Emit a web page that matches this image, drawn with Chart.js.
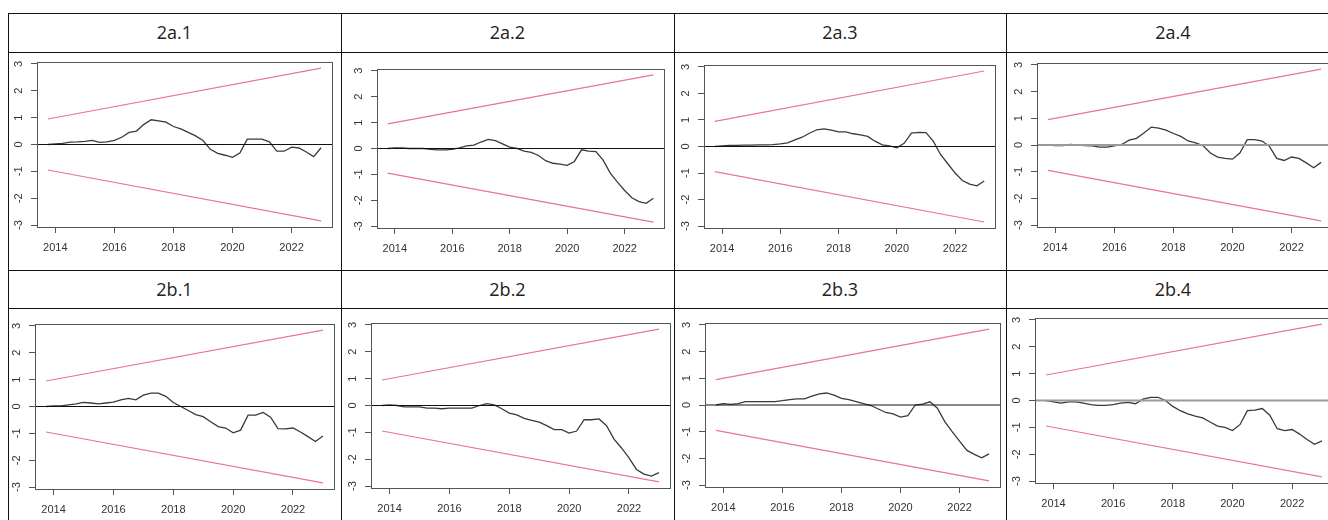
<!DOCTYPE html>
<html>
<head>
<meta charset="utf-8">
<title>CUSUM 2a / 2b</title>
<script src="https://cdn.jsdelivr.net/npm/chart.js@4.4.1/dist/chart.umd.min.js"></script>
<style>
html, body { margin: 0; padding: 0; width: 1328px; height: 520px; overflow: hidden; background: #fff; }
#sheet { position: relative; width: 1328px; height: 520px; }
.cv { position: absolute; }
.ln { position: absolute; background: #111; z-index: 2; }
.ttl { position: absolute; text-align: center; font-family: 'Open Sans', sans-serif; font-size: 18px; color: #222; }
</style>
</head>
<body>
<div id="sheet"></div>
<script>
// quarterly time axis
var quarters = [2013.75,
    2014, 2014.25, 2014.5, 2014.75, 2015, 2015.25, 2015.5, 2015.75,
    2016, 2016.25, 2016.5, 2016.75, 2017, 2017.25, 2017.5, 2017.75,
    2018, 2018.25, 2018.5, 2018.75, 2019, 2019.25, 2019.5, 2019.75,
    2020, 2020.25, 2020.5, 2020.75, 2021, 2021.25, 2021.5, 2021.75,
    2022, 2022.25, 2022.5, 2022.75, 2023];

// empirical fluctuation process, one per panel
var s2a1 = [0, 0.02, 0.04, 0.09, 0.10, 0.12, 0.15, 0.08, 0.10, 0.15, 0.27, 0.45, 0.50, 0.75, 0.92, 0.88, 0.83, 0.67, 0.58, 0.45, 0.32, 0.15, -0.18, -0.33, -0.40, -0.48, -0.32, 0.20, 0.20, 0.20, 0.10, -0.25, -0.25, -0.10, -0.13, -0.28, -0.45, -0.12];
var s2a2 = [0, 0.02, 0.02, 0, 0, 0, -0.03, -0.05, -0.05, -0.03, 0.02, 0.10, 0.13, 0.25, 0.35, 0.30, 0.18, 0.05, 0, -0.10, -0.15, -0.27, -0.47, -0.57, -0.60, -0.65, -0.50, -0.05, -0.10, -0.12, -0.45, -0.95, -1.30, -1.62, -1.90, -2.05, -2.12, -1.92];
var s2a3 = [0, 0.02, 0.04, 0.04, 0.05, 0.05, 0.06, 0.06, 0.07, 0.10, 0.14, 0.25, 0.35, 0.50, 0.63, 0.66, 0.62, 0.55, 0.55, 0.48, 0.44, 0.38, 0.20, 0.06, 0.02, -0.05, 0.12, 0.50, 0.53, 0.52, 0.20, -0.30, -0.65, -1.00, -1.28, -1.42, -1.48, -1.30];
var s2a4 = [0, -0.02, -0.02, 0.02, 0, -0.02, -0.03, -0.08, -0.08, -0.03, 0.02, 0.18, 0.25, 0.45, 0.67, 0.63, 0.56, 0.43, 0.32, 0.15, 0.08, -0.02, -0.30, -0.45, -0.50, -0.53, -0.30, 0.20, 0.20, 0.15, -0.05, -0.50, -0.58, -0.45, -0.50, -0.67, -0.85, -0.65];
var s2b1 = [0, 0.02, 0.02, 0.06, 0.10, 0.15, 0.13, 0.10, 0.13, 0.16, 0.25, 0.30, 0.25, 0.42, 0.50, 0.50, 0.38, 0.15, 0, -0.15, -0.30, -0.38, -0.57, -0.75, -0.80, -0.98, -0.88, -0.32, -0.32, -0.22, -0.40, -0.82, -0.83, -0.80, -0.95, -1.12, -1.30, -1.10];
var s2b2 = [0, 0.02, 0, -0.05, -0.05, -0.05, -0.10, -0.10, -0.12, -0.10, -0.10, -0.10, -0.10, 0, 0.07, 0.02, -0.12, -0.28, -0.35, -0.48, -0.55, -0.62, -0.75, -0.90, -0.90, -1.03, -0.95, -0.53, -0.53, -0.50, -0.75, -1.25, -1.58, -1.95, -2.38, -2.55, -2.63, -2.50];
var s2b3 = [0, 0.05, 0.02, 0.05, 0.13, 0.13, 0.13, 0.13, 0.13, 0.16, 0.20, 0.23, 0.23, 0.33, 0.42, 0.45, 0.37, 0.25, 0.20, 0.13, 0.05, -0.02, -0.15, -0.28, -0.33, -0.45, -0.40, 0, 0.03, 0.12, -0.12, -0.62, -1.00, -1.35, -1.70, -1.85, -1.98, -1.83];
var s2b4 = [0, -0.05, -0.10, -0.05, -0.05, -0.10, -0.15, -0.18, -0.18, -0.15, -0.10, -0.07, -0.12, 0.05, 0.12, 0.12, 0, -0.22, -0.38, -0.50, -0.58, -0.65, -0.80, -0.95, -1.00, -1.12, -0.90, -0.38, -0.36, -0.30, -0.55, -1.05, -1.12, -1.08, -1.25, -1.45, -1.63, -1.50];

// 5% boundaries (start / end of sample)
var bndTime = [2013.75, 2023];
var bndUpper = [0.948, 2.844];
var bndLower = [-0.948, -2.844];

var xTicks = [2014, 2016, 2018, 2020, 2022];
var yTicks = [-3, -2, -1, 0, 1, 2, 3];
var xRange = [2013.38, 2023.37];
var yRange = [-3.07, 3.07];

var panelTitles = ['2a.1', '2a.2', '2a.3', '2a.4', '2b.1', '2b.2', '2b.3', '2b.4'];
var panelSeries = [s2a1, s2a2, s2a3, s2a4, s2b1, s2b2, s2b3, s2b4];

// page layout of the table and the plot frames (left, top, right, bottom)
var colEdges = [8, 341, 674, 1006, 1340];
var rowEdges = [13, 52, 270, 308, 520];
var plotBoxes = [
    [37, 62, 332, 227], [377, 69, 664, 228], [704, 65, 995, 228], [1037, 63, 1332, 227],
    [35, 324, 334, 489], [371, 323, 670, 488], [705, 323, 1000, 487], [1035, 318, 1333, 483]
];

Chart.defaults.font.family = "'Liberation Sans', Arial, sans-serif";
Chart.defaults.font.size = 11;
Chart.defaults.color = '#333';

var sheet = document.getElementById('sheet');

function addLine(x, y, w, h) {
    var d = document.createElement('div');
    d.className = 'ln';
    d.style.left = x + 'px'; d.style.top = y + 'px';
    d.style.width = w + 'px'; d.style.height = h + 'px';
    sheet.appendChild(d);
}

for (var r = 0; r < 4; r++) addLine(colEdges[0], rowEdges[r], colEdges[4] - colEdges[0], 1);
for (var c = 0; c < 5; c++) addLine(colEdges[c], rowEdges[0], 1, 520 - rowEdges[0]);

var boxFrame = {
    id: 'boxFrame',
    afterDatasetsDraw: function(chart) {
        var a = chart.chartArea, ctx = chart.ctx;
        ctx.save();
        ctx.strokeStyle = '#555';
        ctx.lineWidth = 1;
        ctx.strokeRect(Math.round(a.left) + 0.5, Math.round(a.top) + 0.5,
            Math.round(a.right - a.left), Math.round(a.bottom - a.top));
        ctx.restore();
    }
};

function toPoints(xs, ys) {
    var pts = [];
    for (var i = 0; i < xs.length; i++) pts.push({x: xs[i], y: ys[i]});
    return pts;
}

function makePanel(i) {
    var col = i % 4, row = Math.floor(i / 4);
    var cx = colEdges[col], cy = rowEdges[2 * row + 1];
    var cw = colEdges[col + 1] - cx, ch = rowEdges[2 * row + 2] - cy;
    var box = plotBoxes[i];

    var t = document.createElement('div');
    t.className = 'ttl';
    t.textContent = panelTitles[i];
    t.style.left = cx + 'px';
    t.style.width = cw + 'px';
    t.style.top = rowEdges[2 * row] + 'px';
    t.style.height = (cy - rowEdges[2 * row]) + 'px';
    t.style.lineHeight = (cy - rowEdges[2 * row]) + 'px';
    sheet.appendChild(t);

    var cv = document.createElement('canvas');
    cv.className = 'cv';
    cv.width = cw; cv.height = ch;
    cv.style.left = cx + 'px'; cv.style.top = cy + 'px';
    cv.style.width = cw + 'px'; cv.style.height = ch + 'px';
    sheet.appendChild(cv);

    var cutPanel = (col === 3);

    new Chart(cv.getContext('2d'), {
        type: 'line',
        data: {
            datasets: [{
                data: toPoints(xRange, [0, 0]),
                borderColor: cutPanel ? '#9a9a9a' : '#111',
                borderWidth: cutPanel ? 2 : 1
            }, {
                data: toPoints(quarters, panelSeries[i]),
                borderColor: '#3a3a3a',
                borderWidth: 1.3
            }, {
                data: toPoints(bndTime, bndUpper),
                borderColor: '#e8768e',
                borderWidth: 1.2
            }, {
                data: toPoints(bndTime, bndLower),
                borderColor: '#e8768e',
                borderWidth: 1.2
            }]
        },
        options: {
            responsive: false,
            devicePixelRatio: 1,
            animation: false,
            events: [],
            elements: { point: { radius: 0 }, line: { tension: 0 } },
            layout: { padding: { left: 0, top: box[1] - cy, right: cx + cw - box[2], bottom: 0 } },
            plugins: { legend: { display: false }, tooltip: { enabled: false } },
            scales: {
                x: {
                    type: 'linear',
                    min: xRange[0], max: xRange[1],
                    afterBuildTicks: function(s) { s.ticks = xTicks.map(function(v) { return {value: v}; }); },
                    afterFit: function(s) {
                        s.height = cy + ch - box[3];
                        s.paddingLeft = 0; s.paddingRight = 0; s.paddingTop = 0; s.paddingBottom = 0;
                    },
                    grid: { drawOnChartArea: false, tickLength: 6, color: '#555' },
                    border: { display: false },
                    ticks: { padding: 8, maxRotation: 0, color: '#333', callback: function(v) { return String(v); } }
                },
                y: {
                    type: 'linear',
                    min: yRange[0], max: yRange[1],
                    afterBuildTicks: function(s) { s.ticks = yTicks.map(function(v) { return {value: v}; }); },
                    afterFit: function(s) {
                        s.width = box[0] - cx;
                        s.paddingLeft = 0; s.paddingRight = 0; s.paddingTop = 0; s.paddingBottom = 0;
                    },
                    grid: { drawOnChartArea: false, tickLength: 6, color: '#555' },
                    border: { display: false },
                    ticks: { padding: 7, minRotation: 90, maxRotation: 90, crossAlign: 'center', color: '#333',
                        callback: function(v) { return String(v); } }
                }
            }
        },
        plugins: [boxFrame]
    });
}

for (var i = 0; i < panelSeries.length; i++) makePanel(i);
</script>
</body>
</html>
